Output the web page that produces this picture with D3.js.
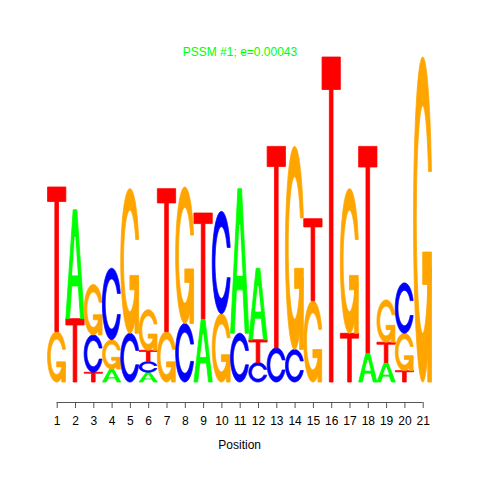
<!DOCTYPE html>
<html>
<head>
<meta charset="utf-8">
<script src="https://cdn.jsdelivr.net/npm/d3@7"></script>
<style>
  html, body { margin: 0; padding: 0; background: #fff; }
  svg { display: block; }
</style>
</head>
<body>
<script>
// ---- data (information content in bits) ----
const positions = d3.range(1, 22);
const bases = ["A", "C", "G", "T"];
const heightA = [0, 0.67, 0, 0.08, 0, 0.06, 0, 0, 0.39, 0, 0.89, 0.44, 0, 0, 0, 0, 0, 0.18, 0.12, 0, 0];
const heightC = [0, 0, 0.23, 0.44, 0.30, 0.065, 0, 0.36, 0, 0.63, 0.30, 0.12, 0.21, 0.20, 0, 0, 0, 0, 0, 0.31, 0];
const heightG = [0.31, 0, 0.31, 0.18, 0.89, 0.25, 0.31, 0.84, 0, 0.42, 0, 0, 0, 1.25, 0.50, 0, 0.89, 0, 0.26, 0.23, 2.0];
const heightT = [0.89, 0.39, 0.06, 0, 0, 0.07, 0.88, 0, 0.65, 0, 0, 0.14, 1.24, 0, 0.505, 2.0, 0.30, 1.27, 0.125, 0.07, 0];
const titleText = "PSSM #1; e=0.00043";
const xLabel = "Position";
const colors = { A: "#00FF00", C: "#0000FF", G: "#FFA500", T: "#FF0000" };

const W = 480, H = 480;
const svg = d3.select("body").append("svg").attr("width", W).attr("height", H);

const x = d3.scaleLinear().domain([1, 21]).range([56.7, 422.7]);
const y = d3.scaleLinear().domain([0, 2]).range([382, 57]);
const colW = x(2) - x(1);

// ---- letter shapes in unit square (x right, y up), seqLogo style ----
function arcPts(cx, cy, r, t0, t1, n) {
  const pts = [];
  for (let i = 0; i <= n; i++) {
    const t = t0 + (t1 - t0) * i / n;
    pts.push([cx + r * Math.sin(t), cy + r * Math.cos(t)]);
  }
  return pts;
}
function cShape() {
  const to0 = Math.PI / 2 + 0.3, to1 = 2.5 * Math.PI - 0.3;
  const outer = arcPts(0.5, 0.5, 0.5, to0, to1, 200);
  const yc = 0.5 - 0.5 * Math.sin(0.3);
  const c = (yc - 0.5) / 0.35;
  const ti0 = Math.PI - Math.acos(-c);
  const ti1 = 3 * Math.PI - ti0;
  const inner = arcPts(0.5, 0.5, 0.35, ti0, ti1, 200).reverse();
  return outer.concat(inner);
}
const shapes = {
  A: [
    { pts: [[0,0],[0.4,1],[0.6,1],[1,0],[0.8,0],[0.68,0.3],[0.32,0.3],[0.2,0]], hole: false },
    { pts: [[0.36,0.4],[0.5,0.75],[0.64,0.4]], hole: true }
  ],
  C: [ { pts: cShape(), hole: false } ],
  G: [
    { pts: cShape(), hole: false },
    { pts: (function(){ const r1 = 0.5 + 0.5*Math.cos(0.3); return [[r1,0.4],[0.5,0.4],[0.5,0.3],[r1-0.2,0.3],[r1-0.2,0],[r1,0]]; })(), hole: false }
  ],
  T: [ { pts: [[0,1],[1,1],[1,0.9],[0.6,0.9],[0.6,0],[0.4,0],[0.4,0.9],[0,0.9]], hole: false } ]
};

// ---- build stacked letters ----
const series = { A: heightA, C: heightC, G: heightG, T: heightT };
const letters = [];
positions.forEach((p, j) => {
  const col = bases.map((b, k) => ({ base: b, h: series[b][j], k }))
    .sort((a, b) => a.h - b.h || a.k - b.k);
  let base = 0;
  col.forEach(c => {
    if (c.h > 0) {
      letters.push({ pos: p, base: c.base, y0: base, y1: base + c.h });
    }
    base += c.h;
  });
});

const line = d3.line();
const gL = svg.append("g");
letters.forEach(L => {
  const x0 = x(L.pos) - colW / 2;
  const yb = y(L.y0), yt = y(L.y1);
  const h = yb - yt;
  shapes[L.base].forEach(s => {
    const pts = s.pts.map(([u, v]) => [x0 + u * colW, yb - v * h]);
    const fill = s.hole ? "#FFFFFF" : colors[L.base];
    gL.append("path")
      .attr("d", line(pts) + "Z")
      .attr("fill", fill)
      .attr("stroke", fill)
      .attr("stroke-width", 0.8)
      .attr("stroke-linejoin", "miter");
  });
});

// ---- axis ----
const axisY = 402;
const gA = svg.append("g").attr("transform", `translate(0,${axisY})`);
const axis = d3.axisBottom(x).tickValues(positions).tickFormat(d3.format("d"))
  .tickSizeInner(6).tickSizeOuter(0).tickPadding(8);
gA.call(axis);
gA.select(".domain").attr("stroke", "#555").attr("d", `M${x(1)},0.5H${x(21)}`);
gA.selectAll(".tick line").attr("stroke", "#555");
gA.selectAll(".tick text").attr("font-family", "Liberation Sans, Arial, sans-serif")
  .attr("font-size", 12).attr("fill", "#000");

svg.append("text").attr("x", x(11)).attr("y", 449)
  .attr("text-anchor", "middle")
  .attr("font-family", "Liberation Sans, Arial, sans-serif")
  .attr("font-size", 12).attr("fill", "#000").text(xLabel);

svg.append("text").attr("x", 240).attr("y", 56)
  .attr("text-anchor", "middle")
  .attr("font-family", "Liberation Sans, Arial, sans-serif")
  .attr("font-size", 12).attr("fill", "#00FF00").text(titleText);
</script>
</body>
</html>
